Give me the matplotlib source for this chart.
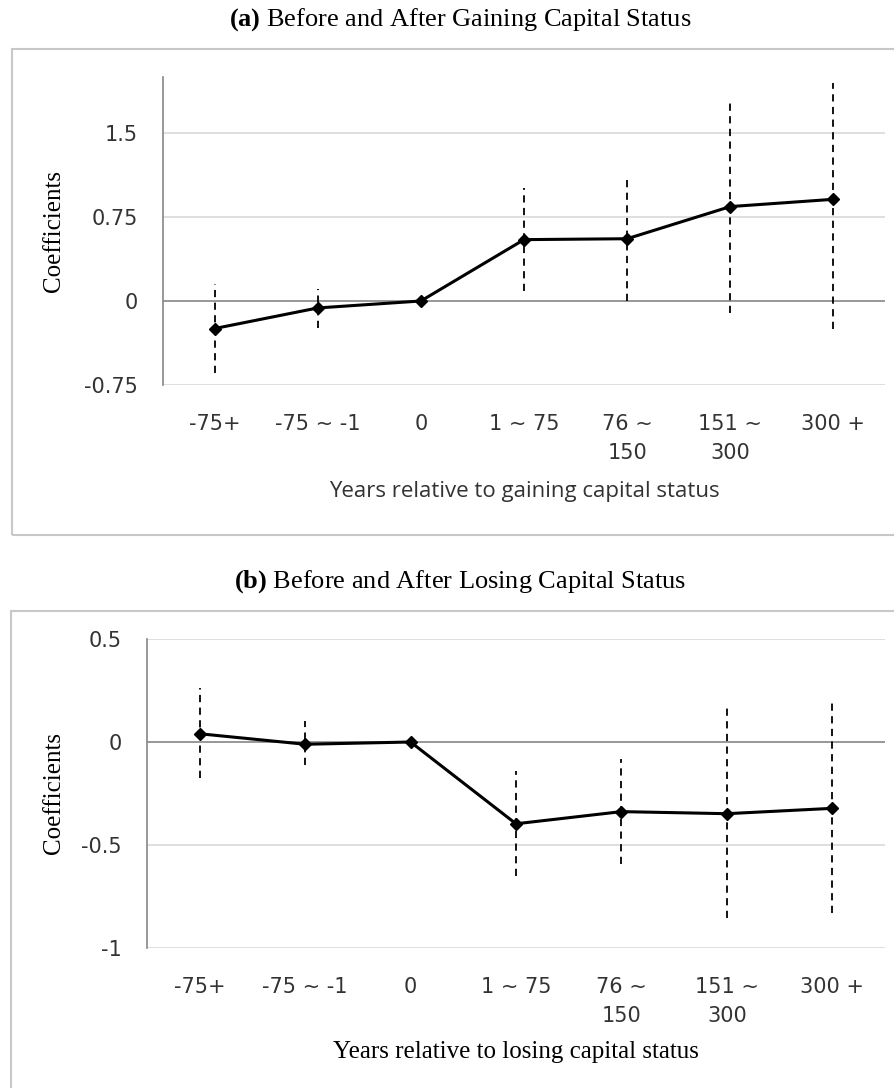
import numpy as np
import matplotlib
matplotlib.use("Agg")
import matplotlib.pyplot as plt
from matplotlib.patches import Rectangle

plt.rcParams['mathtext.fontset'] = 'custom'
plt.rcParams['mathtext.rm'] = 'Liberation Serif'
plt.rcParams['mathtext.bf'] = 'Liberation Serif:bold'

# categorias del eje x (iguales en los dos paneles)
categorias = ["-75+", "-75 ~ -1", "0", "1 ~ 75", "76 ~\n150", "151 ~\n300", "300 +"]

# panel (a): ganar la capitalidad
coef_a = [-0.246, -0.062, 0.0, 0.548, 0.556, 0.843, 0.908]
sup_a = [0.154, 0.104, np.nan, 1.012, 1.115, 1.80, 1.95]
inf_a = [-0.646, -0.237, np.nan, 0.089, 0.0, -0.104, -0.25]
yticks_a = [-0.75, 0, 0.75, 1.5]
yticklabels_a = ["-0.75", "0", "0.75", "1.5"]

# panel (b): perder la capitalidad
coef_b = [0.040, -0.011, 0.0, -0.397, -0.338, -0.348, -0.322]
sup_b = [0.264, 0.102, np.nan, -0.141, -0.084, 0.186, 0.210]
inf_b = [-0.173, -0.113, np.nan, -0.650, -0.594, -0.853, -0.829]
yticks_b = [-1, -0.5, 0, 0.5]
yticklabels_b = ["-1", "-0.5", "0", "0.5"]

W, H = 894, 1088
fig = plt.figure(figsize=(W / 100, H / 100), dpi=100)


# Convierte una caja en pixeles a coordenadas de figura
def caja(x0, y0, x1, y1):
    return [x0 / W, 1 - y1 / H, (x1 - x0) / W, (y1 - y0) / H]


# Marcos grises alrededor de cada panel
fig.patches.append(Rectangle((12 / W, 1 - 535 / H), 1.0, (535 - 49) / H,
                             transform=fig.transFigure, fill=False,
                             edgecolor="#c8c8c8", lw=1.5))
fig.patches.append(Rectangle((11 / W, -0.2), 1.0, 0.2 + (1 - 611 / H),
                             transform=fig.transFigure, fill=False,
                             edgecolor="#c8c8c8", lw=1.5))

sans = "DejaVu Sans"
serif = "Liberation Serif"
gris = "#333333"


def dibujar(ax, coef, sup, inf, yticks, ylabels, ylim):
    x = np.arange(len(categorias))
    ax.set_xlim(-0.5, len(categorias) - 0.5)
    ax.set_ylim(*ylim)
    for v in yticks:
        if v == 0:
            ax.axhline(v, color="#868686", lw=1.2, zorder=1)
        else:
            ax.axhline(v, color="#d9d9d9", lw=1.2, zorder=1)
    # intervalos de confianza en discontinua
    for xi, lo, hi in zip(x, inf, sup):
        if np.isnan(lo):
            continue
        ax.vlines(xi, lo, hi, colors="black", lw=1.3,
                  linestyles=(0, (4, 3)), zorder=2)
    ax.plot(x, coef, color="black", lw=2.2, marker="D", markersize=6,
            zorder=3)
    for s in ["top", "right", "bottom"]:
        ax.spines[s].set_visible(False)
    ax.spines["left"].set_color("#868686")
    ax.spines["left"].set_linewidth(1.2)
    ax.set_yticks(yticks)
    ax.set_yticklabels(ylabels, fontfamily=sans, fontsize=15, color=gris)
    ax.set_xticks(x)
    ax.set_xticklabels(categorias, fontfamily=sans, fontsize=15,
                       color=gris, linespacing=1.55)
    ax.tick_params(axis="both", length=0)
    ax.tick_params(axis="x", pad=21)
    ax.tick_params(axis="y", pad=18)
    ax.set_ylabel("Coefficients", fontfamily=serif, fontsize=18)


ax1 = fig.add_axes(caja(163, 77, 885, 385))
dibujar(ax1, coef_a, sup_a, inf_a, yticks_a, yticklabels_a, (-0.75, 2.0))
ax1.yaxis.set_label_coords((65 - 163) / 722, 0.5)
ax1.set_xlabel("Years relative to gaining capital status",
               fontfamily="Open Sans", fontsize=16, color=gris)
ax1.xaxis.set_label_coords(0.5, (385 - 481) / 308)

ax2 = fig.add_axes(caja(147, 639, 885, 948))
dibujar(ax2, coef_b, sup_b, inf_b, yticks_b, yticklabels_b, (-1, 0.5))
ax2.yaxis.set_label_coords((65 - 147) / 738, 0.5)
ax2.set_xlabel("Years relative to losing capital status",
               fontfamily=serif, fontsize=18)
ax2.xaxis.set_label_coords(0.5, (948 - 1041) / 309)

fig.text(460 / W, 1 - 20 / H, r"$\mathbf{(a)}$ Before and After Gaining Capital Status",
         ha="center", va="center", fontfamily=serif, fontsize=19)
fig.text(460 / W, 1 - 582 / H, r"$\mathbf{(b)}$ Before and After Losing Capital Status",
         ha="center", va="center", fontfamily=serif, fontsize=19)

fig.savefig("out.png", dpi=100)
